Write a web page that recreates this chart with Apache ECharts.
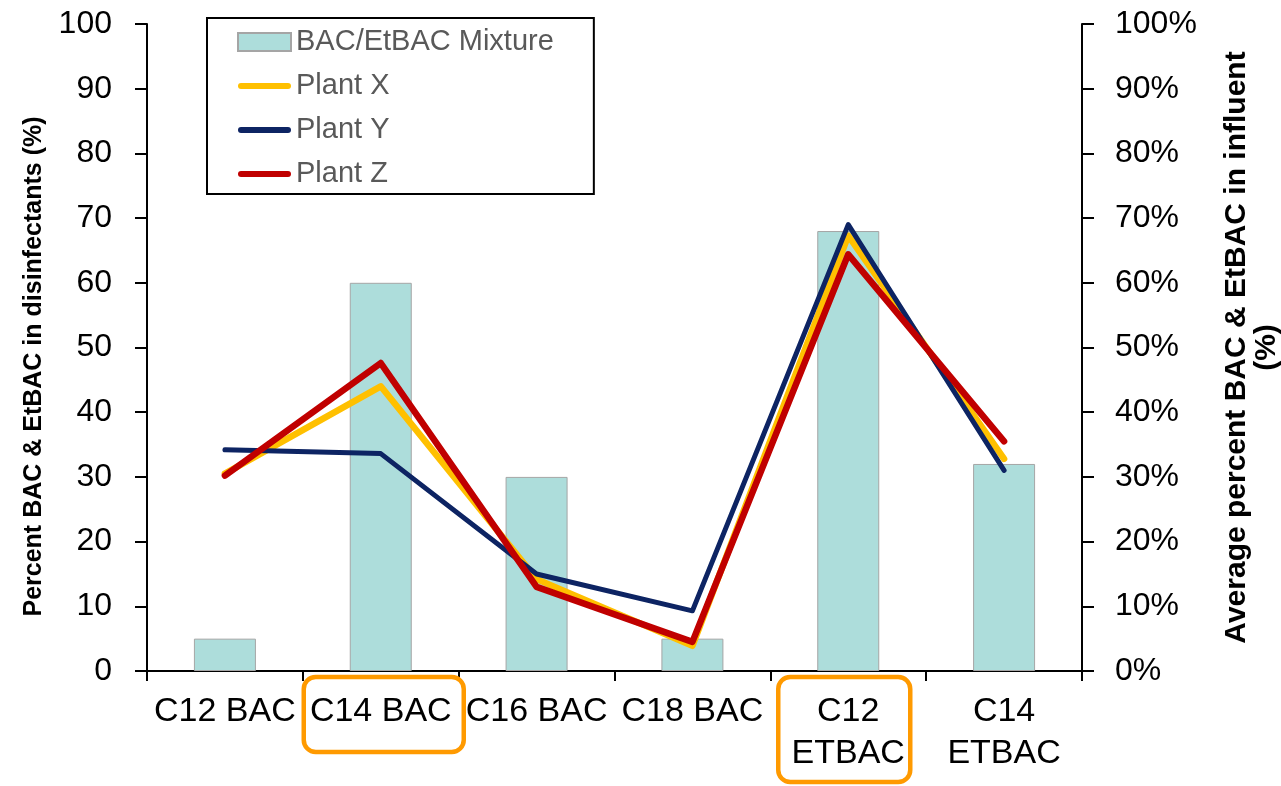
<!DOCTYPE html>
<html>
<head>
<meta charset="utf-8">
<script src="https://cdn.jsdelivr.net/npm/echarts@6/dist/echarts.min.js"></script>
<style>
html,body{margin:0;padding:0;background:#fff;}
#chart{width:1281px;height:786px;}
</style>
</head>
<body>
<div id="chart"></div>
<script>
const categories = ['C12 BAC', 'C14 BAC', 'C16 BAC', 'C18 BAC', 'C12\nETBAC', 'C14\nETBAC'];
const mixture = [5, 60, 30, 5, 68, 32];
const plantX = [30.5, 44.0, 14.2, 3.9, 67.3, 32.8];
const plantY = [34.2, 33.6, 15.0, 9.3, 69.0, 31.0];
const plantZ = [30.2, 47.6, 13.0, 4.5, 64.4, 35.5];
const highlighted = ['C14 BAC', 'C12\nETBAC'];

const FONT = '"Liberation Sans", Arial, sans-serif';
const lineIcon = 'path://M3,0 L50,0 A3,3 0 0 1 50,6 L3,6 A3,3 0 0 1 3,0 Z';

const chart = echarts.init(document.getElementById('chart'), null, {renderer: 'canvas'});
const option = {
  animation: false,
  backgroundColor: '#fff',
  textStyle: {fontFamily: FONT},
  grid: {left: 147, right: 199, top: 24, bottom: 115, containLabel: false, outerBoundsMode: 'none'},
  legend: {
    orient: 'vertical',
    left: 207, top: 18,
    padding: [9, 40, 5, 30],
    borderColor: '#000', borderWidth: 2,
    itemWidth: 53, itemHeight: 18, itemGap: 14,
    textStyle: {fontSize: 29, color: '#595959', fontFamily: FONT, lineHeight: 30},
    data: [
      {name: 'BAC/EtBAC Mixture', icon: 'rect'},
      {name: 'Plant X', icon: lineIcon},
      {name: 'Plant Y', icon: lineIcon},
      {name: 'Plant Z', icon: lineIcon}
    ]
  },
  xAxis: {
    type: 'category',
    data: categories,
    boundaryGap: true,
    axisLine: {lineStyle: {color: '#000', width: 2}},
    axisTick: {show: true, length: 10, alignWithLabel: false, lineStyle: {color: '#000', width: 2}},
    axisLabel: {interval: 0, fontSize: 34, color: '#000', fontFamily: FONT, lineHeight: 42, margin: 20},
    splitLine: {show: false}
  },
  yAxis: [
    {
      type: 'value', min: 0, max: 100, interval: 10,
      name: 'Percent BAC & EtBAC in disinfectants (%)',
      nameLocation: 'middle', nameRotate: 90, nameGap: 100,
      nameTextStyle: {fontSize: 25, fontWeight: 'bold', color: '#000', fontFamily: FONT, padding: [0, 38, 0, 0]},
      axisLine: {show: true, lineStyle: {color: '#000', width: 2}},
      axisTick: {show: true, length: 12, lineStyle: {color: '#000', width: 2}},
      axisLabel: {fontSize: 32, color: '#000', fontFamily: FONT, margin: 35},
      splitLine: {show: false}
    },
    {
      type: 'value', min: 0, max: 100, interval: 10, position: 'right',
      name: 'Average percent BAC & EtBAC in influent\n(%)',
      nameLocation: 'middle', nameRotate: 90, nameGap: 140,
      nameTextStyle: {fontSize: 30, fontWeight: 'bold', color: '#000', fontFamily: FONT, lineHeight: 30, align: 'center'},
      axisLine: {show: true, lineStyle: {color: '#000', width: 2}},
      axisTick: {show: true, length: 12, lineStyle: {color: '#000', width: 2}},
      axisLabel: {fontSize: 32, color: '#000', fontFamily: FONT, margin: 33, formatter: '{value}%'},
      splitLine: {show: false}
    }
  ],
  series: [
    {
      name: 'BAC/EtBAC Mixture', type: 'bar', yAxisIndex: 0,
      data: mixture, barWidth: 62,
      itemStyle: {color: '#ADDDDB', borderColor: '#A5A5A5', borderWidth: 1}
    },
    {
      name: 'Plant X', type: 'line', yAxisIndex: 1, data: plantX,
      symbol: 'none', color: '#FFC000',
      lineStyle: {color: '#FFC000', width: 6.5, cap: 'round', join: 'round'}
    },
    {
      name: 'Plant Y', type: 'line', yAxisIndex: 1, data: plantY,
      symbol: 'none', color: '#0D2463',
      lineStyle: {color: '#0D2463', width: 5, cap: 'round', join: 'round'}
    },
    {
      name: 'Plant Z', type: 'line', yAxisIndex: 1, data: plantZ,
      symbol: 'none', color: '#C00000',
      lineStyle: {color: '#C00000', width: 6.5, cap: 'round', join: 'round'}
    }
  ]
};
chart.setOption(option);

// orange rounded highlight boxes around two category labels
const boxSpecs = [
  {cat: highlighted[0], dx0: -77, dx1: 83, y1: 752},
  {cat: highlighted[1], dx0: -70, dx1: 62, y1: 782}
];
const axisY = chart.convertToPixel({yAxisIndex: 0}, 0);
const graphics = boxSpecs.map(function (b) {
  const cx = chart.convertToPixel({xAxisIndex: 0}, b.cat);
  return {
    type: 'rect',
    shape: {x: cx + b.dx0, y: axisY + 6, width: b.dx1 - b.dx0, height: b.y1 - axisY - 6, r: 12},
    style: {fill: 'none', stroke: '#FF9A00', lineWidth: 4.5},
    z: 100
  };
});
chart.setOption({graphic: graphics});
</script>
</body>
</html>
